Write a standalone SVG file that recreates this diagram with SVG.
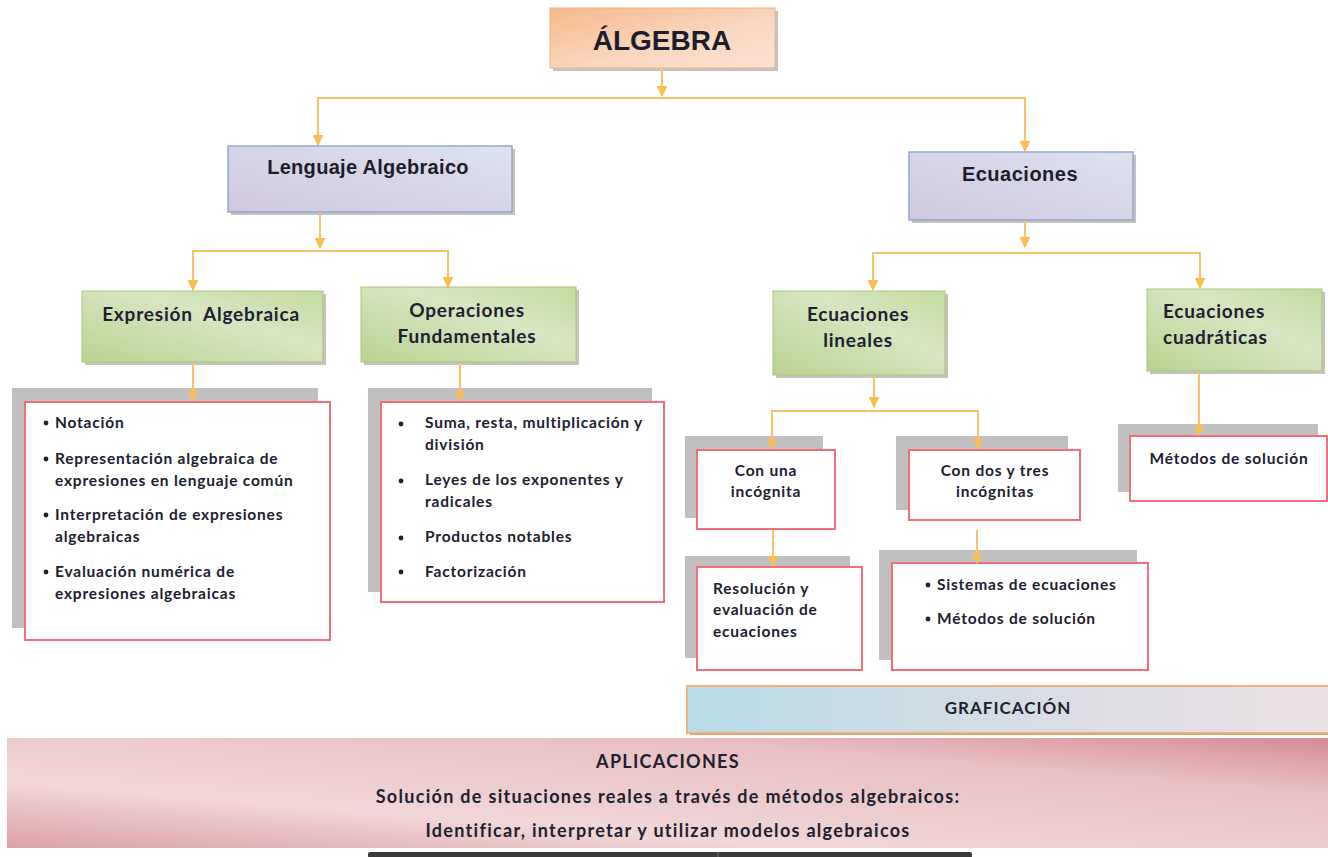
<svg xmlns="http://www.w3.org/2000/svg" width="1328" height="857" viewBox="0 0 1328 857">
<defs>
<linearGradient id="gOrange" x1="0" y1="0" x2="1" y2="1"><stop offset="0" stop-color="#f6b98c"/><stop offset="0.6" stop-color="#fad8c0"/><stop offset="1" stop-color="#fbe3d3"/></linearGradient>
<linearGradient id="gLav" x1="0" y1="1" x2="1" y2="0"><stop offset="0" stop-color="#cfc7df"/><stop offset="1" stop-color="#dde2f0"/></linearGradient>
<linearGradient id="gGreen" x1="0" y1="1" x2="1" y2="0"><stop offset="0" stop-color="#b9d391"/><stop offset="0.6" stop-color="#d7e6c1"/><stop offset="1" stop-color="#c3db9f"/></linearGradient>
<linearGradient id="gBlue" x1="0" y1="0" x2="1" y2="0"><stop offset="0" stop-color="#b7dbe7"/><stop offset="0.6" stop-color="#dcdde4"/><stop offset="1" stop-color="#ebe1e5"/></linearGradient>
<linearGradient id="gPink" x1="0" y1="1" x2="1" y2="0"><stop offset="0" stop-color="#dba1a6"/><stop offset="0.3" stop-color="#f1d6d8"/><stop offset="0.75" stop-color="#e8bfc2"/><stop offset="1" stop-color="#d48d93"/></linearGradient>
<marker id="arrow" viewBox="0 0 10 10" refX="9" refY="5" markerWidth="11" markerHeight="11" orient="auto" markerUnits="userSpaceOnUse"><path d="M0,0 L10,5 L0,10 z" fill="#f9bd55"/></marker>
</defs>
<style>
.conn{fill:none;stroke:#fac26a;stroke-width:2}
.shadow{fill:#9a8f8a;opacity:0.55}
.gray{fill:#c0c0c0}
.red{fill:#ffffff;stroke:#f06f78;stroke-width:2}
.arial{font-family:"Liberation Sans",Arial,sans-serif;font-weight:bold;fill:#1d1d2b}
.cal{font-family:Lato,"Open Sans",sans-serif;font-weight:bold;fill:#202030}
.head{font-size:19px;letter-spacing:0.8px}
.item{font-size:15.5px;letter-spacing:0.8px}
.c{text-anchor:middle}
</style>
<rect width="1328" height="857" fill="#ffffff"/>

<g id="algebra">
<rect class="shadow" x="553" y="11" width="225" height="60"/>
<rect x="550" y="8" width="225" height="60" fill="url(#gOrange)" stroke="#f0b488" stroke-width="1"/>
<text class="arial c" x="662" y="50" font-size="28">ÁLGEBRA</text>
</g>

<g id="lenguaje">
<rect class="shadow" x="231" y="149" width="284" height="66"/>
<rect x="228" y="146" width="284" height="66" fill="url(#gLav)" stroke="#93a9cd" stroke-width="1.5"/>
<text class="arial c" x="368" y="174" font-size="20" letter-spacing="0.3">Lenguaje Algebraico</text>
</g>

<g id="ecuaciones">
<rect class="shadow" x="912" y="155" width="224" height="68"/>
<rect x="909" y="152" width="224" height="68" fill="url(#gLav)" stroke="#93a9cd" stroke-width="1.5"/>
<text class="arial c" x="1020" y="181" font-size="20" letter-spacing="0.5">Ecuaciones</text>
</g>

<g id="expresion">
<rect class="shadow" x="85" y="294" width="241" height="71"/>
<rect x="82" y="291" width="241" height="71" fill="url(#gGreen)" stroke="#a9c77e" stroke-width="1"/>
<text class="cal head c" x="201" y="321" xml:space="preserve">Expresión  Algebraica</text>
</g>

<g id="operaciones">
<rect class="shadow" x="364" y="290" width="215" height="75"/>
<rect x="361" y="287" width="215" height="75" fill="url(#gGreen)" stroke="#a9c77e" stroke-width="1"/>
<text class="cal head c" x="467" y="317">Operaciones</text>
<text class="cal head c" x="467" y="343">Fundamentales</text>
</g>

<g id="lista-expresion">
<rect class="gray" x="12" y="388" width="306" height="240"/>
<rect class="red" x="25" y="402" width="305" height="238"/>
<g class="cal item">
<circle cx="46" cy="423" r="2.4" fill="#202030"/>
<text x="55" y="428">Notación</text>
<circle cx="46" cy="459" r="2.4" fill="#202030"/>
<text x="55" y="464">Representación algebraica de</text>
<text x="55" y="486">expresiones en lenguaje común</text>
<circle cx="46" cy="515" r="2.4" fill="#202030"/>
<text x="55" y="520">Interpretación de expresiones</text>
<text x="55" y="542">algebraicas</text>
<circle cx="46" cy="572" r="2.4" fill="#202030"/>
<text x="55" y="577">Evaluación numérica de</text>
<text x="55" y="599">expresiones algebraicas</text>
</g>
</g>

<g id="lista-operaciones">
<rect class="gray" x="368" y="388" width="284" height="204"/>
<rect class="red" x="381" y="402" width="283" height="200"/>
<g class="cal item">
<circle cx="401" cy="424" r="2.4" fill="#202030"/>
<text x="425" y="428">Suma, resta, multiplicación y</text>
<text x="425" y="450">división</text>
<circle cx="401" cy="481" r="2.4" fill="#202030"/>
<text x="425" y="485">Leyes de los exponentes y</text>
<text x="425" y="507">radicales</text>
<circle cx="401" cy="538" r="2.4" fill="#202030"/>
<text x="425" y="542">Productos notables</text>
<circle cx="401" cy="572" r="2.4" fill="#202030"/>
<text x="425" y="577">Factorización</text>
</g>
</g>

<g id="lineales">
<rect class="shadow" x="776" y="294" width="172" height="84"/>
<rect x="773" y="291" width="172" height="84" fill="url(#gGreen)" stroke="#a9c77e" stroke-width="1"/>
<text class="cal head c" x="858" y="321">Ecuaciones</text>
<text class="cal head c" x="858" y="347">lineales</text>
</g>

<g id="cuadraticas">
<rect class="shadow" x="1150" y="292" width="175" height="82"/>
<rect x="1147" y="289" width="175" height="82" fill="url(#gGreen)" stroke="#a9c77e" stroke-width="1"/>
<text class="cal head" x="1163" y="318">Ecuaciones</text>
<text class="cal head" x="1163" y="344">cuadráticas</text>
</g>

<g id="con-una">
<rect class="gray" x="685" y="436" width="138" height="82"/>
<rect class="red" x="697" y="450" width="138" height="79"/>
<text class="cal item c" x="766" y="476">Con una</text>
<text class="cal item c" x="766" y="497">incógnita</text>
</g>

<g id="con-dos">
<rect class="gray" x="896" y="436" width="172" height="74"/>
<rect class="red" x="909" y="450" width="171" height="70"/>
<text class="cal item c" x="995" y="476">Con dos y tres</text>
<text class="cal item c" x="995" y="497">incógnitas</text>
</g>

<g id="metodos-cuadraticas">
<rect class="gray" x="1118" y="424" width="200" height="68"/>
<rect class="red" x="1130" y="436" width="197" height="65"/>
<text class="cal item c" x="1229" y="464">Métodos de solución</text>
</g>

<g id="resolucion">
<rect class="gray" x="685" y="556" width="165" height="102"/>
<rect class="red" x="697" y="567" width="165" height="103"/>
<g class="cal item">
<text x="713" y="594">Resolución y</text>
<text x="713" y="615">evaluación de</text>
<text x="713" y="637">ecuaciones</text>
</g>
</g>

<g id="sistemas">
<rect class="gray" x="879" y="550" width="258" height="110"/>
<rect class="red" x="892" y="563" width="256" height="107"/>
<g class="cal item">
<circle cx="928" cy="585" r="2.4" fill="#202030"/>
<text x="937" y="590">Sistemas de ecuaciones</text>
<circle cx="928" cy="619" r="2.4" fill="#202030"/>
<text x="937" y="624">Métodos de solución</text>
</g>
</g>

<g id="graficacion">
<rect x="687" y="686" width="643" height="47" fill="url(#gBlue)" stroke="#f2b27c" stroke-width="2"/>
<line x1="690" y1="734" x2="1328" y2="734" stroke="#e3a878" stroke-width="2"/>
<text class="cal c" x="1008" y="714" font-size="17" letter-spacing="1">GRAFICACIÓN</text>
</g>

<g id="aplicaciones">
<rect x="7" y="738" width="1323" height="110" fill="url(#gPink)"/>
<g class="cal c" font-size="18" letter-spacing="1.3">
<text x="668" y="768">APLICACIONES</text>
<text x="668" y="803">Solución de situaciones reales a través de métodos algebraicos:</text>
<text x="668" y="837">Identificar, interpretar y utilizar modelos algebraicos</text>
</g>
</g>

<rect x="368" y="852" width="604" height="6" rx="2" fill="#3a3a3a"/>
<line x1="718" y1="852" x2="718" y2="857" stroke="#777" stroke-width="1"/>

<g id="connectors">
<path class="conn" d="M662,68 V96" marker-end="url(#arrow)"/>
<path class="conn" d="M318,144 V98 H1025 V150"/>
<path class="conn" d="M318,134 V145" marker-end="url(#arrow)"/>
<path class="conn" d="M1025,139 V151" marker-end="url(#arrow)"/>
<path class="conn" d="M320,213 V248" marker-end="url(#arrow)"/>
<path class="conn" d="M193,289 V251 H448 V287"/>
<path class="conn" d="M193,278 V290" marker-end="url(#arrow)"/>
<path class="conn" d="M448,276 V287" marker-end="url(#arrow)"/>
<path class="conn" d="M193,363 V401" marker-end="url(#arrow)"/>
<path class="conn" d="M460,363 V401" marker-end="url(#arrow)"/>
<path class="conn" d="M1025,221 V247" marker-end="url(#arrow)"/>
<path class="conn" d="M873,289 V253 H1200 V288"/>
<path class="conn" d="M873,278 V290" marker-end="url(#arrow)"/>
<path class="conn" d="M1200,276 V288" marker-end="url(#arrow)"/>
<path class="conn" d="M874,376 V407" marker-end="url(#arrow)"/>
<path class="conn" d="M772,449 V411 H978 V449"/>
<path class="conn" d="M772,437 V449" marker-end="url(#arrow)"/>
<path class="conn" d="M978,437 V449" marker-end="url(#arrow)"/>
<path class="conn" d="M773,530 V566" marker-end="url(#arrow)"/>
<path class="conn" d="M977,530 V563" marker-end="url(#arrow)"/>
<path class="conn" d="M1199,372 V435" marker-end="url(#arrow)"/>
</g>
</svg>
